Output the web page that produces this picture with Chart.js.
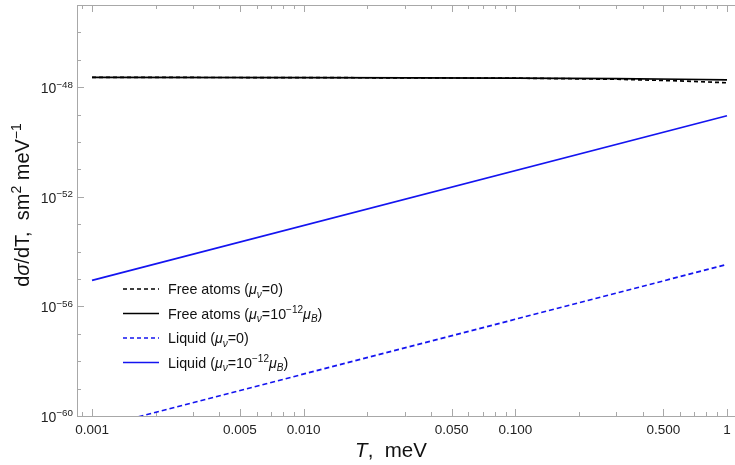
<!DOCTYPE html>
<html>
<head>
<meta charset="utf-8">
<script src="https://cdn.jsdelivr.net/npm/chart.js@4/dist/chart.umd.min.js"></script>
<style>
  body { margin: 0; background: #fff; }
</style>
</head>
<body>
<canvas id="chartCanvas" width="735" height="465"></canvas>
<script>
// valores (escala log-log)
const freeT = [0.001, 0.01, 0.1, 0.3, 0.6, 1];
const freeMu0 = [2.29e-48, 2.24e-48, 2.14e-48, 1.95e-48, 1.70e-48, 1.45e-48];
const freeMu = [2.29e-48, 2.24e-48, 2.14e-48, 2.04e-48, 1.95e-48, 1.86e-48];
const liquidT = [0.001, 1];
const liquidMu0 = [3.4e-61, 3.4e-55];
const liquidMu = [8.9e-56, 9.1e-50];

const xMajor = [0.001, 0.005, 0.01, 0.05, 0.1, 0.5, 1];
const xLabels = ["0.001", "0.005", "0.010", "0.050", "0.100", "0.500", "1"];
const yMajorExp = [-48, -52, -56, -60];

const FONT = "'Liberation Sans', Arial, sans-serif";
const AXIS_GRAY = "#a8a8a8";
const BLUE = "#1414f0";

function pts(xs, ys) { return xs.map(function(x, i) { return { x: x, y: ys[i] }; }); }

function isMajorX(v) { return xMajor.findIndex(function(m) { return Math.abs(v / m - 1) < 1e-6; }); }

function xTickValues() {
  let vals = [];
  for (let e = -4; e <= 0; e++) {
    for (let k = 1; k <= 9; k++) vals.push(k * Math.pow(10, e));
  }
  return vals.filter(function(v) { return v >= 0.00085 && v <= 1.09; });
}

// texto com itálico / índices
function drawRich(ctx, parts, x, y, size, align) {
  const widths = parts.map(function(p) {
    const s = (p.sub || p.sup) ? size * 0.7 : size;
    ctx.font = (p.it ? "italic " : "") + s + "px " + FONT;
    return ctx.measureText(p.t).width;
  });
  const total = widths.reduce(function(a, b) { return a + b; }, 0);
  let cx = align === "center" ? x - total / 2 : align === "right" ? x - total : x;
  ctx.textAlign = "left";
  ctx.textBaseline = "alphabetic";
  parts.forEach(function(p, i) {
    const s = (p.sub || p.sup) ? size * 0.7 : size;
    ctx.font = (p.it ? "italic " : "") + s + "px " + FONT;
    const dy = p.sup ? -size * 0.4 : p.sub ? size * 0.25 : 0;
    ctx.fillText(p.t, cx, y + dy);
    cx += widths[i];
  });
}

function mu(sub) { return [{ t: "\u03bc", it: 1 }, { t: sub, it: 1, sub: 1 }]; }

const legendItems = [
  { color: "#000", dash: [4, 3], parts: [{ t: "Free atoms (" }].concat(mu("\u03bd"), [{ t: "=0)" }]) },
  { color: "#000", dash: [], parts: [{ t: "Free atoms (" }].concat(mu("\u03bd"), [{ t: "=10" }, { t: "\u221212", sup: 1 }], mu("B"), [{ t: ")" }]) },
  { color: BLUE, dash: [4, 3], parts: [{ t: "Liquid (" }].concat(mu("\u03bd"), [{ t: "=0)" }]) },
  { color: BLUE, dash: [], parts: [{ t: "Liquid (" }].concat(mu("\u03bd"), [{ t: "=10" }, { t: "\u221212", sup: 1 }], mu("B"), [{ t: ")" }]) }
];

const framePlugin = {
  id: "frame",
  beforeDatasetsDraw: function(chart) {
    const ctx = chart.ctx, a = chart.chartArea;
    const xs = chart.scales.x, ys = chart.scales.y;
    ctx.save();
    ctx.strokeStyle = AXIS_GRAY;
    ctx.lineWidth = 1;
    ctx.beginPath();
    ctx.moveTo(a.right, a.top + 0.5); ctx.lineTo(a.left + 0.5, a.top + 0.5);
    ctx.lineTo(a.left + 0.5, a.bottom + 0.5); ctx.lineTo(a.right, a.bottom + 0.5);
    ctx.stroke();
    ctx.beginPath();
    xTickValues().forEach(function(v) {
      const px = Math.round(xs.getPixelForValue(v)) + 0.5;
      const len = isMajorX(v) >= 0 ? 7 : 4;
      ctx.moveTo(px, a.bottom); ctx.lineTo(px, a.bottom - len);
      ctx.moveTo(px, a.top); ctx.lineTo(px, a.top + len);
    });
    for (let e = -60; e <= -45; e++) {
      const py = Math.round(ys.getPixelForValue(Math.pow(10, e))) + 0.5;
      const len = yMajorExp.indexOf(e) >= 0 ? 7 : 4;
      ctx.moveTo(a.left, py); ctx.lineTo(a.left + len, py);
    }
    ctx.stroke();
    ctx.restore();
  },
  afterDraw: function(chart) {
    const ctx = chart.ctx, a = chart.chartArea, ys = chart.scales.y;
    ctx.save();
    ctx.fillStyle = "#222";
    yMajorExp.forEach(function(e) {
      const py = ys.getPixelForValue(Math.pow(10, e));
      drawRich(ctx, [{ t: "10" }, { t: "\u2212" + (-e), sup: 1 }], a.left - 4, py + 6, 14, "right");
    });
    // legenda
    legendItems.forEach(function(it, i) {
      const y = 289 + i * 24.5;
      ctx.strokeStyle = it.color;
      ctx.lineWidth = 1.6;
      ctx.setLineDash(it.dash);
      ctx.beginPath();
      ctx.moveTo(123, y); ctx.lineTo(159, y);
      ctx.stroke();
      ctx.setLineDash([]);
      ctx.fillStyle = "#111";
      drawRich(ctx, it.parts, 168, y + 5, 14.3, "left");
    });
    // títulos dos eixos
    ctx.fillStyle = "#111";
    drawRich(ctx, [{ t: "T", it: 1 }, { t: ",  meV" }], 391, 457, 20.5, "center");
    ctx.translate(29, 205);
    ctx.rotate(-Math.PI / 2);
    drawRich(ctx, [{ t: "d" }, { t: "\u03c3", it: 1 }, { t: "/dT,  sm" }, { t: "2", sup: 1 }, { t: " meV" }, { t: "\u22121", sup: 1 }], 0, 0, 20, "center");
    ctx.restore();
  }
};

function lineDs(data, color, dash) {
  return { data: data, borderColor: color, borderWidth: 1.7, borderDash: dash, pointRadius: 0, fill: false, tension: 0 };
}

const chart = new Chart(document.getElementById("chartCanvas"), {
  type: "line",
  data: {
    datasets: [
      lineDs(pts(freeT, freeMu0), "#000", [4, 3]),
      lineDs(pts(freeT, freeMu), "#000", []),
      lineDs(pts(liquidT, liquidMu0), BLUE, [5, 3]),
      lineDs(pts(liquidT, liquidMu), BLUE, [])
    ]
  },
  options: {
    responsive: false,
    animation: false,
    devicePixelRatio: 1,
    layout: { padding: { top: 5, right: 0, left: 0, bottom: 0 } },
    plugins: { legend: { display: false }, tooltip: { enabled: false } },
    scales: {
      x: {
        type: "logarithmic",
        min: 0.000849,
        max: 1.091,
        grid: { display: false, drawTicks: false },
        border: { display: false },
        afterBuildTicks: function(s) { s.ticks = xTickValues().map(function(v) { return { value: v }; }); },
        afterFit: function(s) { s.height = 49; s.paddingRight = 0; s.paddingLeft = 0; },
        ticks: {
          autoSkip: false, maxRotation: 0, padding: 6, color: "#222",
          font: { family: FONT, size: 13.5 },
          callback: function(v) { const i = isMajorX(v); return i >= 0 ? xLabels[i] : ""; }
        }
      },
      y: {
        type: "logarithmic",
        min: 1e-60,
        max: 1e-45,
        grid: { display: false, drawTicks: false },
        border: { display: false },
        ticks: { display: false },
        afterFit: function(s) { s.width = 77; }
      }
    }
  },
  plugins: [framePlugin]
});
</script>
</body>
</html>
